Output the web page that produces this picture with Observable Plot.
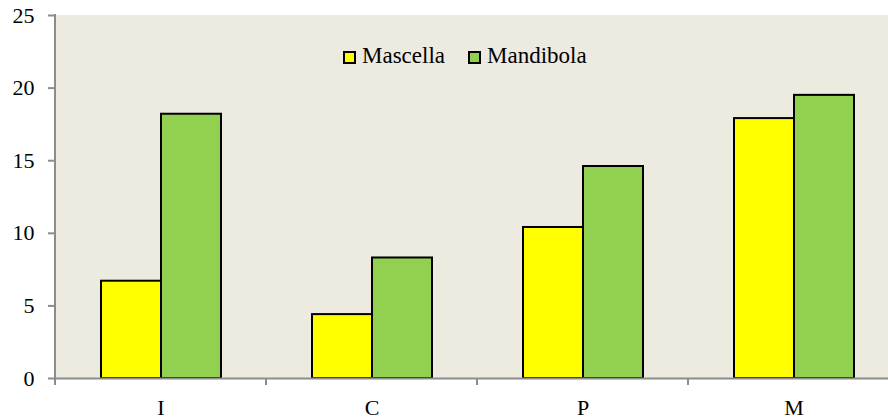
<!DOCTYPE html>
<html><head><meta charset="utf-8">
<script src="https://cdn.jsdelivr.net/npm/d3@7"></script>
<script src="https://cdn.jsdelivr.net/npm/@observablehq/plot@0.6"></script>
<style>
body{margin:0;background:#fff;}
#wrap{position:relative;width:888px;height:419px;overflow:hidden;font-family:'Liberation Serif','DejaVu Serif',serif;}
#legend{position:absolute;top:44px;left:343px;display:flex;align-items:center;font-size:23px;line-height:23px;color:#000;white-space:nowrap;}
.item{display:flex;align-items:center;margin-right:23px;}
.sw{width:13px;height:13px;box-sizing:border-box;border:2px solid #000;margin-right:6px;margin-top:3px;}
</style></head><body><div id="wrap"></div>
<script>
const categories = ["I","C","P","M"];
const series = ["Mascella","Mandibola"];
const mascella = [6.7, 4.4, 10.4, 17.9];
const mandibola = [18.2, 8.3, 14.6, 19.5];
const yTicks = [0, 5, 10, 15, 20, 25];
const colors = ["#ffff00", "#92d050"];
const bg = "#edeae0";

const data = categories.flatMap((c, i) => [
  {cat: c, series: series[0], value: mascella[i]},
  {cat: c, series: series[1], value: mandibola[i]}
]);

const font = "Liberation Serif, DejaVu Serif, serif";
const chart = Plot.plot({
  width: 888, height: 419,
  marginLeft: 55, marginRight: -11, marginTop: 15, marginBottom: 41,
  style: {fontFamily: font, fontSize: "22px", color: "#000", background: "transparent", overflow: "hidden"},
  fx: {domain: categories, padding: 0, label: null},
  x: {domain: series, paddingInner: 0, paddingOuter: 0.73, axis: null},
  y: {domain: [0, 25], label: null},
  color: {domain: series, range: colors},
  marks: [
    Plot.frame({fill: bg, stroke: bg, strokeWidth: 1}),
    Plot.barY(data, {fx: "cat", x: "series", y: "value", fill: "series", stroke: "#000", strokeWidth: 2}),
    Plot.ruleY([0], {stroke: "#8c8c8c", strokeWidth: 2}),
    Plot.axisY(yTicks, {tickSize: 7, tickPadding: 14, stroke: "#8c8c8c", strokeWidth: 2, fontSize: 22, fontFamily: font, label: null}),
    Plot.axisFx({anchor: "bottom", tickSize: 0, tickPadding: 21, fontSize: 22, fontFamily: font, label: null})
  ]
});

// axis line and category boundary ticks, placed through the plot's own scales
const fx = chart.scale("fx"), y = chart.scale("y");
const svg = d3.select(chart);
const g = svg.append("g").attr("stroke", "#8c8c8c").attr("stroke-width", 2);
const x0 = fx.apply(categories[0]);
g.append("line").attr("x1", x0).attr("x2", x0).attr("y1", y.apply(25) - 1).attr("y2", y.apply(0));
categories.forEach(c => {
  const xb = fx.apply(c);
  g.append("line").attr("x1", xb).attr("x2", xb).attr("y1", y.apply(0)).attr("y2", y.apply(0) + 7);
});

const wrap = document.getElementById("wrap");
wrap.appendChild(chart);
const legend = document.createElement("div");
legend.id = "legend";
series.forEach((s, i) => {
  const item = document.createElement("div");
  item.className = "item";
  const sw = document.createElement("span");
  sw.className = "sw";
  sw.style.background = colors[i];
  const t = document.createElement("span");
  t.textContent = s;
  item.appendChild(sw); item.appendChild(t);
  legend.appendChild(item);
});
wrap.appendChild(legend);
</script></body></html>
